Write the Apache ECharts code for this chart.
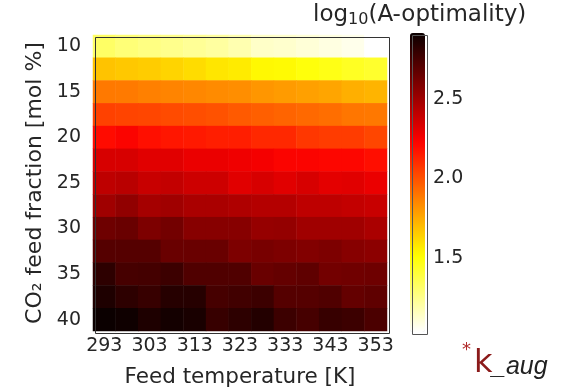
<!DOCTYPE html>
<html>
<head>
<meta charset="utf-8">
<script src="https://cdn.jsdelivr.net/npm/echarts@6/dist/echarts.min.js"></script>
<style>
  html, body { margin: 0; padding: 0; background: #fff; }
  #main { width: 566px; height: 387px; }
</style>
</head>
<body>
<div id="main"></div>
<script>
// feed temperature [K] (columns) and CO2 feed fraction [mol %] (rows)
const temps = ["293", "298", "303", "308", "313", "318", "323", "328", "333", "338", "343", "348", "353"];
const fracs = ["10", "12.5", "15", "17.5", "20", "22.5", "25", "27.5", "30", "32.5", "35", "37.5", "40"];

// log10(A-optimality), one array per CO2 fraction row
const row10   = [1.32, 1.285, 1.265, 1.247, 1.228, 1.21, 1.18, 1.134, 1.125, 1.106, 1.087, 1.068, 1.03];
const row12_5 = [1.68, 1.665, 1.652, 1.631, 1.608, 1.58, 1.567, 1.525, 1.52, 1.49, 1.47, 1.444, 1.425];
const row15   = [1.89, 1.887, 1.869, 1.858, 1.849, 1.84, 1.829, 1.807, 1.792, 1.778, 1.763, 1.735, 1.721];
const row17_5 = [2.046, 2.038, 2.032, 2.018, 2.01, 1.998, 1.976, 1.962, 1.948, 1.933, 1.919, 1.897, 1.891];
const row20   = [2.2, 2.23, 2.188, 2.168, 2.159, 2.145, 2.145, 2.117, 2.117, 2.075, 2.061, 2.061, 2.032];
const row22_5 = [2.343, 2.343, 2.315, 2.315, 2.286, 2.286, 2.272, 2.258, 2.23, 2.23, 2.22, 2.22, 2.19];
const row25   = [2.413, 2.428, 2.385, 2.399, 2.371, 2.371, 2.315, 2.343, 2.315, 2.343, 2.306, 2.315, 2.286];
const row27_5 = [2.498, 2.54, 2.484, 2.498, 2.47, 2.47, 2.456, 2.442, 2.442, 2.413, 2.413, 2.399, 2.385];
const row30   = [2.639, 2.653, 2.597, 2.625, 2.569, 2.569, 2.569, 2.526, 2.532, 2.498, 2.498, 2.498, 2.47];
const row32_5 = [2.71, 2.71, 2.71, 2.653, 2.653, 2.653, 2.597, 2.611, 2.597, 2.583, 2.597, 2.569, 2.555];
const row35   = [2.823, 2.752, 2.758, 2.78, 2.724, 2.724, 2.724, 2.653, 2.668, 2.682, 2.625, 2.634, 2.639];
const row37_5 = [2.865, 2.823, 2.795, 2.843, 2.843, 2.752, 2.766, 2.78, 2.71, 2.71, 2.724, 2.668, 2.682];
const row40   = [2.92, 2.908, 2.865, 2.893, 2.879, 2.795, 2.823, 2.851, 2.78, 2.752, 2.795, 2.78, 2.738];

const rows = [row10, row12_5, row15, row17_5, row20, row22_5, row25, row27_5, row30, row32_5, row35, row37_5, row40];
const vmin = 1.03, vmax = 2.92;
const cbarTicks = [1.5, 2.0, 2.5];

// matplotlib "hot" colormap, reversed
function hot(x) {
  const c = v => Math.max(0, Math.min(1, v));
  const r = x < 0.365079 ? 0.0416 + (1 - 0.0416) * x / 0.365079 : 1;
  const g = c((x - 0.365079) / (0.746032 - 0.365079));
  const b = c((x - 0.746032) / (1 - 0.746032));
  return "rgb(" + Math.round(r * 255) + "," + Math.round(g * 255) + "," + Math.round(b * 255) + ")";
}
const hotR = [];
for (let i = 0; i <= 40; i++) hotR.push(hot(1 - i / 40));

const data = [];
rows.forEach((row, j) => row.forEach((v, i) => data.push([i, j, v])));

const txt = "#262626";
const font = "DejaVu Sans";

let chart = echarts.init(document.getElementById("main"));
let option = {
  animation: false,
  textStyle: { fontFamily: font },
  title: {
    text: "log{sub|10}(A-optimality)",
    left: 313,
    top: 2,
    padding: 0,
    textStyle: {
      fontFamily: font, fontSize: 23, fontWeight: "normal", color: txt,
      rich: { sub: { fontFamily: font, fontSize: 16, color: txt, padding: [10, 0, 0, 0] } }
    }
  },
  grid: [
    { left: 93, top: 35, width: 294, height: 296, outerBoundsMode: "none" },
    { left: 410, top: 33, width: 15, height: 299, outerBoundsMode: "none" }
  ],
  xAxis: [
    {
      type: "category", data: temps, gridIndex: 0,
      name: "Feed temperature [K]", nameLocation: "middle", nameGap: 35,
      nameTextStyle: { fontFamily: font, fontSize: 21.5, color: txt },
      axisLine: { show: false },
      axisTick: { interval: 1, alignWithLabel: true, length: 4, lineStyle: { color: "#333" } },
      axisLabel: { interval: 1, fontFamily: font, fontSize: 19, color: txt, margin: 6 }
    },
    { type: "value", gridIndex: 1, show: false, min: 0, max: 1 }
  ],
  yAxis: [
    {
      type: "category", data: fracs, gridIndex: 0, inverse: true,
      name: "CO\u2082 feed fraction [mol %]", nameLocation: "middle", nameGap: 46,
      nameTextStyle: { fontFamily: font, fontSize: 22, color: txt },
      axisLine: { show: false },
      axisTick: { interval: 1, alignWithLabel: true, length: 4, lineStyle: { color: "#333" } },
      axisLabel: { interval: 1, fontFamily: font, fontSize: 19, color: txt, margin: 12 }
    },
    {
      type: "value", gridIndex: 1, min: vmin, max: vmax, position: "right",
      splitLine: { show: false },
      axisLine: { show: false },
      axisTick: { show: true, inside: false, length: 4, customValues: cbarTicks, lineStyle: { color: "#333" } },
      axisLabel: {
        fontFamily: font, fontSize: 19, color: txt, margin: 8, customValues: cbarTicks,
        formatter: v => v.toFixed(1)
      }
    }
  ],
  visualMap: {
    type: "continuous",
    min: vmin, max: vmax,
    seriesIndex: 0,
    calculable: false,
    show: true,
    left: 410, top: 33,
    padding: 0,
    itemWidth: 15, itemHeight: 299,
    text: null,
    inRange: { color: hotR }
  },
  series: [
    {
      type: "heatmap",
      xAxisIndex: 0, yAxisIndex: 0,
      data: data,
      progressive: 0
    }
  ],
  graphic: [
    {
      type: "rect", left: 93, top: 35, z: 100, silent: true,
      shape: { width: 294, height: 296 },
      style: { fill: null, stroke: "#333", lineWidth: 1 }
    },
    {
      type: "rect", left: 410, top: 33, z: 100, silent: true,
      shape: { width: 15, height: 299 },
      style: { fill: null, stroke: "#555", lineWidth: 1 }
    },
    {
      type: "text", left: 462, top: 341, z: 100,
      style: { text: "*", fontSize: 18, fill: "#b02a2a", fontFamily: font }
    },
    {
      type: "text", left: 474, top: 348, z: 100,
      style: { text: "k", fontSize: 32, fill: "#8b1a1a", fontFamily: font }
    },
    {
      type: "text", left: 492, top: 355, z: 100,
      style: { text: "_aug", fontSize: 25, fontStyle: "italic", fill: "#222", fontFamily: "Liberation Sans" }
    }
  ]
};
chart.setOption(option);
window.addEventListener("resize", chart.resize);
</script>
</body>
</html>
